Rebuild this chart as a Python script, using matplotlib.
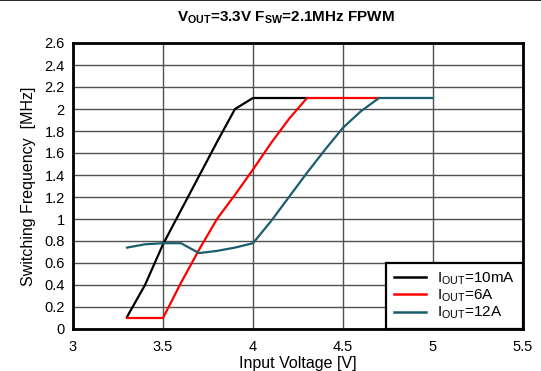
import matplotlib
matplotlib.use("Agg")
import matplotlib.pyplot as plt
from matplotlib.lines import Line2D

plt.rcParams['font.family'] = ['Liberation Sans', 'DejaVu Sans']
plt.rcParams['mathtext.fontset'] = 'custom'
plt.rcParams['mathtext.rm'] = 'Liberation Sans'
plt.rcParams['mathtext.it'] = 'Liberation Sans'
plt.rcParams['mathtext.bf'] = 'Liberation Sans:bold'

# Data
vin_10ma = [3.3, 3.4, 3.5, 3.6, 3.7, 3.8, 3.9, 4.0, 4.3]
f_10ma = [0.11, 0.4, 0.77, 1.08, 1.39, 1.70, 2.0, 2.1, 2.1]

vin_6a = [3.3, 3.5, 3.6, 3.7, 3.8, 3.9, 4.0, 4.1, 4.2, 4.3, 4.7]
f_6a = [0.1, 0.1, 0.42, 0.72, 1.0, 1.22, 1.45, 1.69, 1.91, 2.1, 2.1]

vin_12a = [3.3, 3.4, 3.5, 3.6, 3.7, 3.8, 3.9, 4.0, 4.1, 4.2, 4.3, 4.4, 4.5, 4.6, 4.7, 5.0]
f_12a = [0.74, 0.77, 0.78, 0.78, 0.69, 0.71, 0.74, 0.78, 0.98, 1.2, 1.42, 1.63, 1.83, 1.98, 2.1, 2.1]

labels = [r'I$_{\mathrm{OUT}}$=10mA', r'I$_{\mathrm{OUT}}$=6A', r'I$_{\mathrm{OUT}}$=12A']
colors = ['#000000', '#ff0000', '#1a5e6e']

x_ticks = [3, 3.5, 4, 4.5, 5, 5.5]
x_ticklabels = ['3', '3.5', '4', '4.5', '5', '5.5']
y_ticks = [0, 0.2, 0.4, 0.6, 0.8, 1, 1.2, 1.4, 1.6, 1.8, 2, 2.2, 2.4, 2.6]
y_ticklabels = ['0', '0.2', '0.4', '0.6', '0.8', '1', '1.2', '1.4', '1.6', '1.8', '2', '2.2', '2.4', '2.6']

fig = plt.figure(figsize=(5.41, 3.71), dpi=100)
ax = fig.add_axes([73/541, 1 - 329/371, (523-73)/541, (329-43)/371])

for xv, yv, lab, c in zip([vin_10ma, vin_6a, vin_12a], [f_10ma, f_6a, f_12a], labels, colors):
    ax.plot(xv, yv, color=c, lw=1.6, label=lab, zorder=3)

ax.set_xlim(3, 5.5)
ax.set_ylim(0, 2.6)
ax.set_xticks(x_ticks)
ax.set_xticklabels(x_ticklabels)
ax.set_yticks(y_ticks)
ax.set_yticklabels(y_ticklabels)
ax.tick_params(axis='both', length=0, labelsize=10.5, colors='#000000')
ax.tick_params(axis='x', pad=8)
ax.tick_params(axis='y', pad=6)
ax.grid(True, color='#505050', lw=1.0, zorder=1)
for s in ax.spines.values():
    s.set_linewidth(2.0)
    s.set_color('black')

ax.set_xlabel('Input Voltage [V]', fontsize=11.5, labelpad=1.5)
ax.set_ylabel('Switching Frequency  [MHz]', fontsize=11.5, labelpad=6)

fig.text(286/541, 1 - 18/371,
         r'$\mathbf{V_{OUT}}$=3.3V $\mathbf{F_{SW}}$=2.1MHz FPWM',
         fontsize=11, fontweight='bold', ha='center', va='center')

leg = ax.legend(loc='lower right', fontsize=11, frameon=True, fancybox=False,
                borderaxespad=0, edgecolor='black', framealpha=1,
                handlelength=2.1, labelspacing=0.05, borderpad=0.5, handletextpad=0.75)
leg.get_frame().set_linewidth(1.6)
for h in leg.legend_handles:
    h.set_linewidth(1.8)

fig.add_artist(Line2D([0, 1], [0.999, 0.999], transform=fig.transFigure, color='black', lw=1.2))

fig.savefig('out.png', dpi=100)
